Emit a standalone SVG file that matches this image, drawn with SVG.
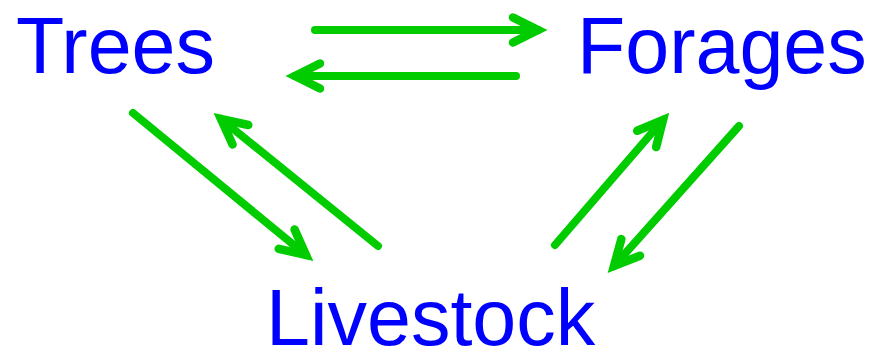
<svg xmlns="http://www.w3.org/2000/svg" width="873" height="350" viewBox="0 0 873 350">
<style>
.lbl{font-family:"Liberation Sans",Arial,sans-serif;font-size:79px;fill:#0000FF}
.arr{fill:none;stroke:#00CC00;stroke-width:8;stroke-linecap:round;stroke-linejoin:miter;marker-end:url(#head)}
</style>
<defs>
<marker id="head" markerUnits="userSpaceOnUse" orient="auto" markerWidth="60" markerHeight="60" refX="30" refY="30" viewBox="0 0 60 60" overflow="visible">
<path d="M5,17.5 L30,30 L5,42.5" fill="none" stroke="#00CC00" stroke-width="8.5" stroke-linecap="round" stroke-linejoin="miter" stroke-miterlimit="10"/>
</marker>
</defs>
<rect width="873" height="350" fill="#fff"/>
<g id="trees"><text class="lbl" x="16" y="73">Trees</text></g>
<g id="forages"><text class="lbl" x="577" y="73">Forages</text></g>
<g id="livestock"><text class="lbl" x="266" y="345">Livestock</text></g>
<g id="connectors">
<path class="arr" d="M315,30 L538,30"/>
<path class="arr" d="M516,76 L295,76"/>
<path class="arr" d="M133,113 L306,255"/>
<path class="arr" d="M378,246 L221,119"/>
<path class="arr" d="M555,245 L663,120"/>
<path class="arr" d="M739,126 L614,266"/>
</g>
</svg>
